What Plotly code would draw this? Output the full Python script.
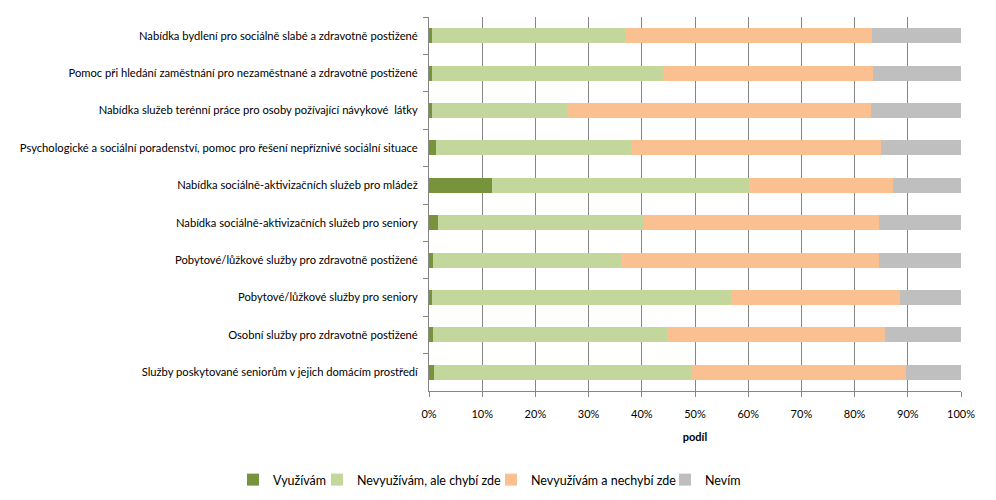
import plotly.graph_objects as go

categories = [
    "Nabídka bydlení pro sociálně slabé a zdravotně postižené",
    "Pomoc při hledání zaměstnání pro nezaměstnané a zdravotně postižené",
    "Nabídka služeb terénní práce pro osoby požívající návykové  látky",
    "Psychologické a sociální poradenství, pomoc pro řešení nepříznivé sociální situace",
    "Nabídka sociálně-aktivizačních služeb pro mládež",
    "Nabídka sociálně-aktivizačních služeb pro seniory",
    "Pobytové/lůžkové služby pro zdravotně postižené",
    "Pobytové/lůžkové služby pro seniory",
    "Osobní služby pro zdravotně postižené",
    "Služby poskytované seniorům v jejich domácím prostředí",
]

vyuzivam = [0.5, 0.5, 0.5, 1.3, 11.9, 1.7, 0.7, 0.5, 0.7, 0.9]
nevyuzivam_chybi = [36.3, 43.5, 25.4, 36.6, 48.2, 38.8, 35.4, 56.3, 44.1, 48.6]
nevyuzivam_nechybi = [46.5, 39.5, 57.1, 47.0, 27.1, 44.0, 48.5, 31.7, 40.9, 40.2]
nevim = [16.7, 16.5, 17.0, 15.1, 12.8, 15.5, 15.4, 11.5, 14.3, 10.3]

series = [
    ("Využívám", vyuzivam, "#77933C"),
    ("Nevyužívám, ale chybí zde", nevyuzivam_chybi, "#C3D69B"),
    ("Nevyužívám a nechybí zde", nevyuzivam_nechybi, "#FAC090"),
    ("Nevím", nevim, "#BFBFBF"),
]

FONT = "Lato"
legend_names = ["legend", "legend2", "legend3", "legend4"]
legend_x = [225, 309, 483, 657]

fig = go.Figure()
for (name, vals, color), lg in zip(series, legend_names):
    fig.add_trace(go.Bar(
        y=categories, x=[v / 100 for v in vals], name=name, orientation="h",
        marker=dict(color=color, line=dict(width=0)), width=0.4, legend=lg,
    ))

layout_legends = {}
for lg, lx in zip(legend_names, legend_x):
    layout_legends[lg] = dict(
        orientation="h", xref="container", x=lx / 996, xanchor="left",
        yref="container", y=0.056, yanchor="middle",
        font=dict(family=FONT, size=12.5), itemwidth=30, bgcolor="rgba(0,0,0,0)",
    )

fig.update_layout(
    barmode="stack",
    width=996, height=500,
    margin=dict(l=421, r=43, t=9, b=117),
    paper_bgcolor="white", plot_bgcolor="white",
    font=dict(family=FONT, size=11, color="#000000"),
    showlegend=True,
    **layout_legends,
)
fig.update_xaxes(
    range=[0, 1], tickformat=".0%", dtick=0.1, tick0=0,
    showgrid=True, gridcolor="#868686", gridwidth=1,
    showline=True, linecolor="#868686", ticks="outside", ticklen=5, tickcolor="#868686",
    ticklabelstandoff=8,
    title=dict(text="<b>podíl</b>", font=dict(size=11), standoff=14),
    zeroline=False,
)
fig.update_yaxes(
    categoryorder="array", categoryarray=categories, autorange="reversed",
    showline=True, linecolor="#868686", ticks="outside", ticklen=5, tickcolor="#868686",
    tickson="boundaries", showgrid=False, ticklabelstandoff=8,
    tickfont=dict(size=11.2),
)
fig.write_html("out.html")
